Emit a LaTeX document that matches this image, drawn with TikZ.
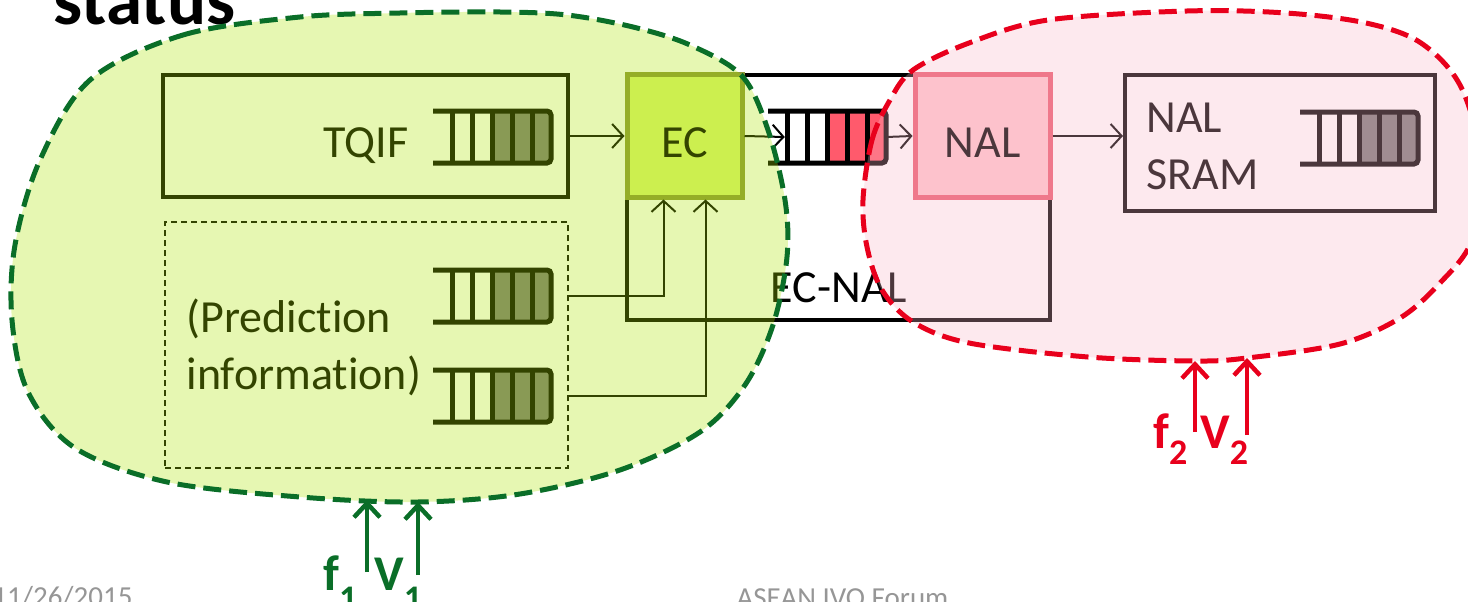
\documentclass[tikz,border=0pt]{standalone}
\usepackage{fontspec}
\setmainfont{Carlito}[Ligatures=NoCommon]
\usepackage{xcolor}
\usetikzlibrary{arrows.meta}

\definecolor{limefill}{RGB}{172,228,0}
\definecolor{rosefill}{RGB}{250,183,200}
\definecolor{darkgreen}{RGB}{10,110,40}
\definecolor{signalred}{RGB}{232,0,28}
\definecolor{ecfill}{RGB}{218,245,114}
\definecolor{ecline}{RGB}{140,152,57}
\definecolor{nalfill}{RGB}{255,200,207}
\definecolor{nalline}{RGB}{235,93,114}
\definecolor{cellred}{RGB}{255,90,108}
\definecolor{footgray}{RGB}{150,150,150}

\begin{document}
\begin{tikzpicture}[
    x=1pt, y=-1pt,
    every node/.style={font=\fontsize{46}{57}\selectfont},
    frame/.style={draw, line width=4pt, inner sep=0pt},
    unit/.style={draw, line width=5pt, minimum width=115pt, minimum height=122pt, inner sep=0pt, text height=42pt, text depth=0pt},
    hint/.style={draw, line width=1.5pt, dash pattern=on 6pt off 4pt, inner sep=0pt},
    link/.style={line width=2pt, -{Straight Barb[length=11pt, width=24pt, line width=2pt]}},
    group/.style={line width=4.5pt},
    zone/.style={line width=5pt, dash pattern=on 18pt off 8pt, fill opacity=0.3},
    feed/.style={line width=4.5pt, -{Straight Barb[length=14pt, width=26pt, line width=4.5pt]}},
    sym/.style={font=\fontsize{50}{50}\selectfont\bfseries, inner sep=0pt, anchor=base west},
    pics/fifo/.style={code={
        \node[minimum width=118pt, minimum height=52pt, inner sep=0pt] (-box) {};
        \fill[#1] (0,-26) rectangle (57,26);
        \draw[line width=5pt, rounded corners=4pt] (-59,-26) -- (59,-26) -- (59,26) -- (-59,26);
        \foreach \x in {-40,-20,0,20,40} \draw[line width=5pt] (\x,-26) -- (\x,26);
    }}
]
\useasboundingbox (0,0) rectangle (1468,602);
\clip (0,0) rectangle (1468,602);

\node[anchor=base west, font=\fontsize{73}{73}\selectfont\bfseries] (title) at (50,25) {status};

% TQIF and prediction side
\node[frame, minimum width=405pt, minimum height=122pt] (tqif) at (365.5,136) {};
\node[anchor=base east] (tqiflbl) at (412,157) {TQIF};
\pic (qt) at (492,137) {fifo=black!52};

\node[hint, minimum width=403pt, minimum height=246pt] (pred) at (366.5,345) {};
\node[anchor=west, align=left] (predlbl) at (183,347) {(Prediction\\information)};
\pic (qa) at (492,296) {fifo=black!52};
\pic (qb) at (492,396) {fifo=black!52};

% EC-NAL
\draw[group] (627,75) rectangle (1050,320);
\node[unit, fill=ecfill, draw=ecline] (ec) at (684.5,136) {EC};
\node[unit, minimum width=135pt, fill=nalfill, draw=nalline] (nal) at (982.5,136) {NAL};
\node[anchor=base] (ecnal) at (839,302) {EC-NAL};
\pic (qm) at (827,137) {fifo=cellred};

\node[frame, minimum width=310pt, minimum height=136pt] (sram) at (1280,143) {};
\node[anchor=west, align=left] (sramlbl) at (1143,146) {NAL\\SRAM};
\pic (qs) at (1359,138) {fifo=black!52};

\draw[link] (tqif.east) -- (ec.west);
\draw[link] (ec.east) -- ([xshift=17pt]qm-box.west);
\draw[link] (qm-box.east) -- (nal.west);
\draw[link] (nal.east) -- (sram.west |- nal.east);
\draw[link] (pred.east |- qa-box.east) -| ([xshift=-21pt]ec.south);
\draw[link] (pred.east |- qb-box.east) -| ([xshift=21pt]ec.south);

% clock/voltage domains
\draw[zone, draw=darkgreen, fill=limefill] plot[smooth cycle, tension=0.55] coordinates {
    (90,80) (183,35) (300,17) (400,13) (500,12) (567,15) (633,27) (690,45)
    (742,76) (768,130) (785,200) (787,257) (773,325) (745,385) (700,432)
    (620,470) (520,494) (418,502) (300,497) (167,482) (75,448) (28,392)
    (12,320) (15,245) (40,160)};
\draw[zone, draw=signalred, fill=rosefill] plot[smooth cycle, tension=0.55] coordinates {
    (863,200) (872,140) (890,100) (913,70) (969,43) (1048,20) (1187,11)
    (1286,13) (1366,23) (1421,43) (1461,87) (1482,165) (1472,240) (1440,283)
    (1400,318) (1340,344) (1247,358) (1195,361) (1088,357) (969,343)
    (913,322) (882,290) (867,247)};

\coordinate (g1s) at (367,572);
\coordinate (g1) at (367,500);
\coordinate (g2s) at (418,575);
\coordinate (g2) at (418,502);
\draw[feed, draw=darkgreen] (g1s) -- (g1);
\draw[feed, draw=darkgreen] (g2s) -- (g2);
\node[sym, text=darkgreen] (f1) at (323,590) {f\raisebox{-20pt}{\fontsize{36}{36}\selectfont 1}};
\node[sym, text=darkgreen] (v1) at (374,590) {V\raisebox{-20pt}{\fontsize{36}{36}\selectfont 1}};

\coordinate (r1s) at (1195,432);
\coordinate (r1) at (1195,361);
\coordinate (r2s) at (1247,435);
\coordinate (r2) at (1247,358);
\draw[feed, draw=signalred] (r1s) -- (r1);
\draw[feed, draw=signalred] (r2s) -- (r2);
\node[sym, text=signalred] (f2) at (1153,448) {f\raisebox{-16pt}{\fontsize{36}{36}\selectfont 2}};
\node[sym, text=signalred] (v2) at (1200,448) {V\raisebox{-16pt}{\fontsize{36}{36}\selectfont 2}};

% footer
\node[anchor=base east, text=footgray, font=\fontsize{29}{29}\selectfont] (date) at (136,606) {11/26/2015};
\node[anchor=base west, text=footgray, font=\fontsize{29}{29}\selectfont] (event) at (733,607) {ASEAN IVO Forum};
\end{tikzpicture}
\end{document}
